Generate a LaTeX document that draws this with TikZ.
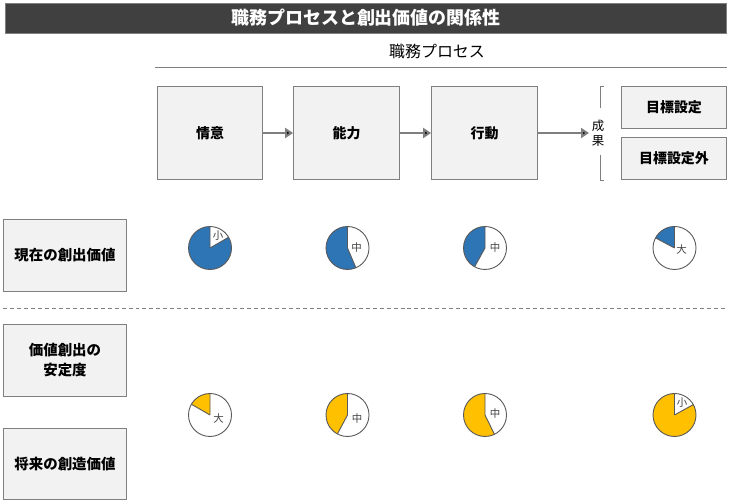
\documentclass[tikz,border=0pt]{standalone}
\usepackage{fontspec}
\setmainfont{Noto Sans CJK JP}
\usetikzlibrary{arrows.meta,positioning}
\definecolor{barfill}{HTML}{404040}
\definecolor{boxfill}{HTML}{F2F2F2}
\definecolor{boxline}{HTML}{7F7F7F}
\definecolor{nowblue}{HTML}{2E75B6}
\definecolor{futyellow}{HTML}{FFC000}
\definecolor{pieline}{HTML}{595959}
\newcommand\valuepie[8]{% x, y, end angle, colour, name, label, dx, dy
  \fill[#4] (#1,#2) -- ++(90:21.5) arc[start angle=90,end angle=#3,radius=21.5] -- cycle;
  \draw[pieline,line width=0.9] (#1,#2) circle[radius=21.5];
  \draw[pieline,line width=0.9] (#1,#2) -- ++(90:21.5) (#1,#2) -- ++(#3:21.5);
  \node[pielabel] (#5) at ([shift={(#7,#8)}]#1,#2) {#6};
}
\begin{document}
\begin{tikzpicture}[x=1bp,y=1bp,
  procbox/.style={draw=boxline,fill=boxfill,line width=1.1,minimum width=106,
    minimum height=94,inner sep=0,font=\fontsize{14}{16}\selectfont\bfseries},
  goalbox/.style={procbox,minimum height=43},
  rowbox/.style={procbox,minimum width=124,minimum height=72,align=center,
    font=\fontsize{14.5}{16}\selectfont\bfseries},
  flow/.style={draw=boxline,line width=2.6,-{Triangle[length=8,width=10]}},
  pielabel/.style={inner sep=0,text=barfill,font=\fontsize{10.5}{12}\selectfont}]
  \useasboundingbox (0,0) rectangle (730,503);
  % heading
  \node[fill=barfill,draw=boxline,minimum width=724,minimum height=30,inner sep=0,
    text=white,font=\fontsize{18}{20}\selectfont\bfseries] (title) at (366,485)
    {職務プロセスと創出価値の関係性};
  \node[font=\fontsize{16}{18}\selectfont] (process) at (437,452) {職務プロセス};
  \coordinate (ruleL) at (155,435);
  \coordinate (ruleR) at (727,435);
  \draw[boxline,line width=1] (ruleL) -- (ruleR);
  % process
  \node[procbox] (jyoi) at (210,370) {情意};
  \node[procbox] (noryoku) at (346.5,370) {能力};
  \node[procbox] (kodo) at (484.5,370) {行動};
  \coordinate (outcome) at (589,370);
  \path[flow]
    (jyoi) edge (noryoku)
    (noryoku) edge (kodo)
    (kodo) edge (outcome);
  \node[align=center,inner sep=0,font=\fontsize{12.5}{15}\selectfont] (seika) at (598,370) {成\\果};
  \draw[boxline,line width=0.8] (604,417) -| (600,395) (600,348) |- (604,323);
  \node[goalbox] (mokuhyo) at (674,395.5) {目標設定};
  \node[goalbox] (mokuhyogai) at (674,344.5) {目標設定外};
  % rows
  \node[rowbox] (genzai) at (65,247.5) {現在の創出価値};
  \node[rowbox] (antei) at (65,142.5) {価値創出の\\[4pt]安定度};
  \node[rowbox] (shorai) at (65,39) {将来の創造価値};
  \coordinate (dashL) at (3,195);
  \coordinate (dashR) at (727,195);
  \draw[boxline,line width=0.8,dash pattern=on 4 off 3] (dashL) -- (dashR);
  % pies
  \valuepie{210}{255}{390}{nowblue}{now1}{小}{8}{12.5}
  \valuepie{347.5}{255}{293}{nowblue}{now2}{中}{9}{0}
  \valuepie{485}{255}{241}{nowblue}{now3}{中}{10}{0}
  \valuepie{674.5}{255}{152}{nowblue}{now4}{大}{7}{-2}
  \valuepie{210}{88}{150}{futyellow}{fut1}{大}{8.5}{-4}
  \valuepie{347.5}{88}{242}{futyellow}{fut2}{中}{9.5}{-4}
  \valuepie{485}{88}{296}{futyellow}{fut3}{中}{10}{1}
  \valuepie{674.5}{88}{389}{futyellow}{fut4}{小}{7.5}{12}
\end{tikzpicture}
\end{document}
